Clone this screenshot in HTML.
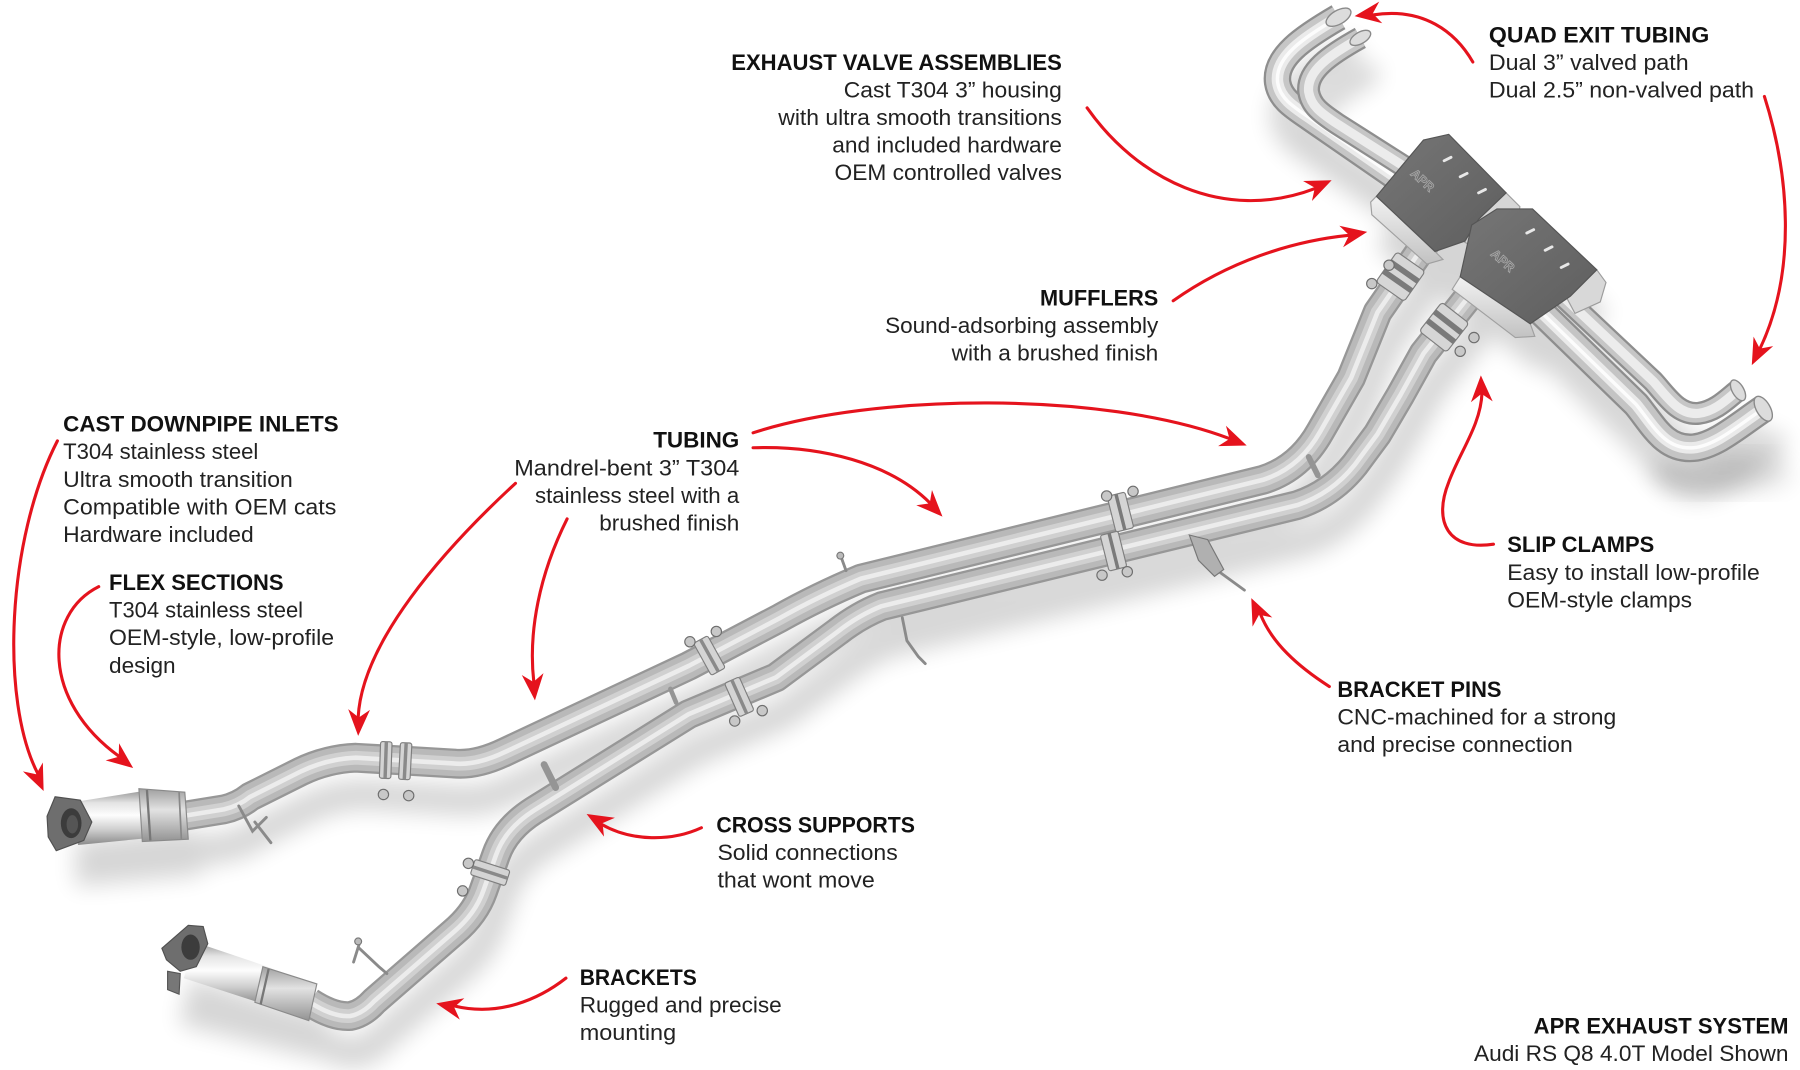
<!DOCTYPE html>
<html><head><meta charset="utf-8">
<style>
html,body{margin:0;padding:0;background:#fff;width:1800px;height:1070px;overflow:hidden}
svg{display:block}
</style></head>
<body>
<svg width="1800" height="1070" viewBox="0 0 1568 932" preserveAspectRatio="none" xmlns="http://www.w3.org/2000/svg" xmlns:xlink="http://www.w3.org/1999/xlink">
<defs>
  <filter id="sh" x="-20%" y="-20%" width="140%" height="140%"><feGaussianBlur stdDeviation="10"/></filter>
  <linearGradient id="gDown" x1="0" y1="0" x2="0" y2="1">
    <stop offset="0" stop-color="#9a9a9a"/><stop offset="0.22" stop-color="#e4e4e4"/>
    <stop offset="0.45" stop-color="#fdfdfd"/><stop offset="0.72" stop-color="#cdcdcd"/>
    <stop offset="1" stop-color="#8a8a8a"/>
  </linearGradient>
  <linearGradient id="gFlex" x1="0" y1="0" x2="0" y2="1">
    <stop offset="0" stop-color="#a0a0a0"/><stop offset="0.4" stop-color="#e2e2e2"/>
    <stop offset="1" stop-color="#939393"/>
  </linearGradient>
  <linearGradient id="gMuf" x1="0" y1="0" x2="1" y2="1">
    <stop offset="0" stop-color="#767676"/><stop offset="1" stop-color="#5e5e5e"/>
  </linearGradient>
  <linearGradient id="gLip" x1="0" y1="0" x2="0" y2="1">
    <stop offset="0" stop-color="#f2f2f2"/><stop offset="1" stop-color="#c2c2c2"/>
  </linearGradient>

  <path id="pA" d="M158,711 L195,705 Q208,702 218,694 L262,672 Q285,661 310,660 L395,665 Q415,667 440,655 L600,580 L680,538 Q712,520 750,504 L1100,418 Q1132,408 1150,376 L1177,329 L1200,272 L1250,200"/>
  <path id="pB" d="M270,873 Q290,886 305,885 Q316,883 326,872 L395,812 Q414,796 421,776 L432,745 Q440,722 465,706 L600,622 Q640,605 676,590 L730,550 Q748,536 768,528 L1130,440 Q1160,430 1180,405 L1200,378 L1220,344 L1240,308 L1290,245"/>
  <path id="pU1" d="M1166,15 C1135,33 1110,50 1113,72 C1115,85 1125,92 1140,102 L1260,185"/>
  <path id="pU2" d="M1185,33 C1158,48 1138,62 1140,80 C1142,92 1150,98 1165,108 L1275,178"/>
  <path id="pL1" d="M1320,250 L1425,352 C1440,370 1450,392 1475,390 C1495,388 1515,370 1536,356"/>
  <path id="pL2" d="M1340,238 L1440,332 C1452,345 1462,362 1480,360 C1495,358 1505,347 1514,340"/>
</defs>

<rect width="1568" height="932" fill="#fff"/>

<!-- shadows -->
<g filter="url(#sh)" opacity="0.16" transform="translate(6,32)" fill="none" stroke="#000" stroke-linecap="round" stroke-linejoin="round">
  <use href="#pA" stroke-width="26"/>
  <use href="#pB" stroke-width="26"/>
  <use href="#pU1" stroke-width="24"/>
  <use href="#pU2" stroke-width="20"/>
  <use href="#pL1" stroke-width="26"/>
  <use href="#pL2" stroke-width="20"/>
  <polygon points="1199,171 1260,118 1395,240 1335,292 1195,186" fill="#000" stroke="none"/>
  <polygon points="60,700 165,690 170,730 60,740" fill="#000" stroke="none"/>
  <polygon points="160,820 280,855 270,890 150,860" fill="#000" stroke="none"/>
</g>
<g filter="url(#sh)" opacity="0.12">
  <ellipse cx="1500" cy="412" rx="60" ry="18" fill="#000"/>
</g>

<!-- exit tubes -->
<g fill="none" stroke-linecap="butt" stroke-linejoin="round">
  <use href="#pU1" stroke="#8e8e8e" stroke-width="24"/>
  <use href="#pU1" stroke="#c6c6c6" stroke-width="20"/>
  <use href="#pU1" stroke="#ebebeb" stroke-width="10"/>
  <use href="#pU1" stroke="#fcfcfc" stroke-width="3"/>
  <use href="#pU2" stroke="#8e8e8e" stroke-width="20"/>
  <use href="#pU2" stroke="#c6c6c6" stroke-width="16"/>
  <use href="#pU2" stroke="#ececec" stroke-width="8"/>
  <use href="#pL2" stroke="#8e8e8e" stroke-width="20"/>
  <use href="#pL2" stroke="#c6c6c6" stroke-width="16"/>
  <use href="#pL2" stroke="#ececec" stroke-width="8"/>
  <use href="#pL1" stroke="#8e8e8e" stroke-width="25"/>
  <use href="#pL1" stroke="#c4c4c4" stroke-width="21"/>
  <use href="#pL1" stroke="#eaeaea" stroke-width="10"/>
  <use href="#pL1" stroke="#fcfcfc" stroke-width="3"/>
</g>
<g stroke="#8a8a8a" stroke-width="1.2">
  <ellipse cx="1166" cy="15" rx="12" ry="6" transform="rotate(-30 1166 15)" fill="#dcdcdc"/>
  <ellipse cx="1185" cy="33" rx="10" ry="5" transform="rotate(-30 1185 33)" fill="#dcdcdc"/>
  <ellipse cx="1536" cy="356" rx="6" ry="12" transform="rotate(-30 1536 356)" fill="#dcdcdc"/>
  <ellipse cx="1514" cy="340" rx="5" ry="10" transform="rotate(-30 1514 340)" fill="#dcdcdc"/>
</g>

<!-- main pipes -->
<g fill="none" stroke-linecap="butt" stroke-linejoin="round">
  <use href="#pA" stroke="#979797" stroke-width="26"/>
  <use href="#pA" stroke="#b9b9b9" stroke-width="22"/>
  <use href="#pA" stroke="#d0d0d0" stroke-width="12"/>
  <use href="#pA" stroke="#ececec" stroke-width="4"/>
  <use href="#pB" stroke="#979797" stroke-width="26"/>
  <use href="#pB" stroke="#b9b9b9" stroke-width="22"/>
  <use href="#pB" stroke="#d0d0d0" stroke-width="12"/>
  <use href="#pB" stroke="#ececec" stroke-width="4"/>
</g>

<!-- cross supports -->
<g stroke="#959595" stroke-linecap="round">
  <line x1="474" y1="666" x2="484" y2="686" stroke-width="6"/>
  <line x1="584" y1="600" x2="589" y2="612" stroke-width="4"/>
  <line x1="1140" y1="398" x2="1148" y2="414" stroke-width="5"/>
</g>

<!-- downpipe 1 -->
<polygon points="62,699 125,689 129,730 68,736" fill="url(#gDown)"/>
<polygon points="121,687 161,690 164,731 124,733" fill="url(#gFlex)" stroke="#8a8a8a" stroke-width="1"/>
<line x1="128" y1="688" x2="131" y2="732" stroke="#777" stroke-width="2"/>
<line x1="156" y1="690" x2="158" y2="731" stroke="#888" stroke-width="1.5"/>
<polygon points="41,711 48,694 70,697 80,716 73,732 49,741 42,729" fill="#6e6e6e" stroke="#505050" stroke-width="1"/>
<ellipse cx="62" cy="717" rx="9" ry="13" fill="#3c3c3c"/>
<ellipse cx="63" cy="718" rx="5" ry="8" fill="#555"/>

<!-- downpipe 2 -->
<polygon points="171,821 242,845 231,875 160,852" fill="url(#gDown)"/>
<polygon points="229,842 276,857 269,889 222,873" fill="url(#gFlex)" stroke="#8a8a8a" stroke-width="1"/>
<line x1="234" y1="844" x2="227" y2="875" stroke="#777" stroke-width="2"/>
<polygon points="141,826 164,806 177,807 181,822 171,842 157,846 145,836" fill="#6e6e6e" stroke="#505050" stroke-width="1"/>
<polygon points="146,846 157,848 156,866 146,862" fill="#777" stroke="#555" stroke-width="1"/>
<ellipse cx="166" cy="825" rx="8" ry="11" fill="#3c3c3c"/>

<!-- mufflers -->
<!-- muffler 1 -->
<polygon points="1199,171 1250,219 1257,226 1243,230 1195,187 1194,176" fill="url(#gLip)" stroke="#a0a0a0" stroke-width="1"/>
<polygon points="1286,192 1312,168 1324,180 1320,206 1300,224 1276,211" fill="#d6d6d6" stroke="#9c9c9c" stroke-width="1"/>
<polygon points="1199,171 1240,122 1262,117 1312,168 1288,191 1276,210 1250,219" fill="url(#gMuf)" stroke="#555" stroke-width="1"/>
<!-- muffler 2 -->
<polygon points="1272,241 1333,282 1337,293 1320,294 1265,252" fill="url(#gLip)" stroke="#a0a0a0" stroke-width="1"/>
<polygon points="1364,258 1391,235 1399,246 1394,263 1372,273" fill="#d8d8d8" stroke="#9c9c9c" stroke-width="1"/>
<polygon points="1272,241 1282,196 1304,182 1335,182 1391,235 1368,258 1333,282" fill="url(#gMuf)" stroke="#555" stroke-width="1"/>
<g stroke="#e8e8e8" stroke-width="2.5" stroke-linecap="round">
  <line x1="1258" y1="140" x2="1264" y2="137"/>
  <line x1="1272" y1="154" x2="1278" y2="151"/>
  <line x1="1288" y1="168" x2="1294" y2="165"/>
  <line x1="1330" y1="203" x2="1336" y2="200"/>
  <line x1="1346" y1="218" x2="1352" y2="215"/>
  <line x1="1360" y1="233" x2="1366" y2="230"/>
</g>
<g font-family="'Liberation Sans', Arial, sans-serif" font-size="11" font-weight="700" fill="none" stroke="#a8a8a8" stroke-width="0.7">
  <text x="1228" y="152" transform="rotate(42 1228 152)">APR</text>
  <text x="1298" y="222" transform="rotate(42 1298 222)">APR</text>
</g>

<!-- clamps -->
<g stroke="#7e7e7e" stroke-width="1">
  <g transform="translate(336,662) rotate(2)"><rect x="-5" y="-16" width="10" height="32" rx="2" fill="#d4d4d4"/><rect x="-1.5" y="-16" width="3" height="32" fill="#8a8a8a" stroke="none"/></g>
  <g transform="translate(353,663) rotate(3)"><rect x="-5" y="-16" width="10" height="32" rx="2" fill="#d4d4d4"/><rect x="-1.5" y="-16" width="3" height="32" fill="#8a8a8a" stroke="none"/></g>
  <g transform="translate(618,571) rotate(-29)"><rect x="-7" y="-16" width="14" height="32" rx="2" fill="#d4d4d4"/><rect x="-1.5" y="-16" width="3" height="32" fill="#8a8a8a" stroke="none"/></g>
  <g transform="translate(644,607) rotate(-24)"><rect x="-7" y="-16" width="14" height="32" rx="2" fill="#d4d4d4"/><rect x="-1.5" y="-16" width="3" height="32" fill="#8a8a8a" stroke="none"/></g>
  <g transform="translate(976,446) rotate(-14)"><rect x="-8" y="-16" width="16" height="32" rx="2" fill="#d4d4d4"/><rect x="-1.5" y="-16" width="3" height="32" fill="#7a7a7a" stroke="none"/></g>
  <g transform="translate(970,480) rotate(-14)"><rect x="-8" y="-16" width="16" height="32" rx="2" fill="#d4d4d4"/><rect x="-1.5" y="-16" width="3" height="32" fill="#7a7a7a" stroke="none"/></g>
  <g transform="translate(427,760) rotate(-72)"><rect x="-7" y="-16" width="14" height="32" rx="2" fill="#d4d4d4"/><rect x="-1.5" y="-16" width="3" height="32" fill="#8a8a8a" stroke="none"/></g>
  <g transform="translate(1220,241) rotate(-55)"><rect x="-16" y="-15" width="32" height="30" rx="3" fill="#d6d6d6"/><rect x="-7" y="-15" width="5" height="30" fill="#7a7a7a" stroke="none"/><rect x="3" y="-15" width="5" height="30" fill="#7a7a7a" stroke="none"/></g>
  <g transform="translate(1258,285) rotate(-52)"><rect x="-16" y="-15" width="32" height="30" rx="3" fill="#d6d6d6"/><rect x="-7" y="-15" width="5" height="30" fill="#7a7a7a" stroke="none"/><rect x="3" y="-15" width="5" height="30" fill="#7a7a7a" stroke="none"/></g>
</g>
<g fill="#c8c8c8" stroke="#6e6e6e" stroke-width="1">
  <circle cx="334" cy="692" r="4.5"/><circle cx="356" cy="693" r="4.5"/>
  <circle cx="601" cy="559" r="4.5"/><circle cx="624" cy="550" r="4.5"/>
  <circle cx="640" cy="628" r="4.5"/><circle cx="664" cy="619" r="4.5"/>
  <circle cx="964" cy="432" r="4.5"/><circle cx="987" cy="428" r="4.5"/>
  <circle cx="960" cy="501" r="4.5"/><circle cx="982" cy="498" r="4.5"/>
  <circle cx="408" cy="752" r="4.5"/><circle cx="403" cy="776" r="4.5"/>
  <circle cx="1195" cy="247" r="4.5"/><circle cx="1210" cy="231" r="4.5"/>
  <circle cx="1272" cy="306" r="4.5"/><circle cx="1284" cy="294" r="4.5"/>
</g>

<!-- brackets -->
<g fill="none" stroke="#8a8a8a" stroke-width="2.5" stroke-linecap="round">
  <path d="M208,702 L220,724 L232,712 M222,716 L236,734"/>
  <path d="M737,497 L733,486"/>
  <path d="M786,538 L790,558 L800,572 L806,578"/>
  <path d="M1062,498 L1084,514"/>
  <path d="M308,838 L313,822 M313,826 L330,842 L337,848"/>
</g>
<circle cx="732" cy="484" r="3" fill="#bbb" stroke="#777"/>
<circle cx="312" cy="820" r="3" fill="#bbb" stroke="#777"/>
<polygon points="1036,466 1052,470 1066,496 1058,502 1044,488" fill="#b0b0b0" stroke="#777" stroke-width="1"/>

<!-- red arrows -->
<g fill="none" stroke="#e5131d" stroke-width="2.7" stroke-linecap="round">
  <path d="M1283,54 C1268,28 1240,6 1196,13"/>
  <path d="M1537,84 C1558,150 1566,235 1533,304"/>
  <path d="M947,94 C990,155 1065,195 1146,164"/>
  <path d="M1022,262 C1070,228 1125,210 1175,205"/>
  <path d="M656,377 C760,343 960,340 1071,382"/>
  <path d="M656,390 C715,388 775,403 810,438"/>
  <path d="M449,421 C385,480 315,560 312,625"/>
  <path d="M494,452 C470,500 460,550 465,594"/>
  <path d="M50,384 C6,470 0,610 33,674"/>
  <path d="M86,511 C38,535 36,610 104,659"/>
  <path d="M611,721 C585,733 550,733 524,718"/>
  <path d="M493,852 C470,870 435,886 395,876"/>
  <path d="M1301,474 C1262,480 1248,455 1262,420 C1272,393 1290,370 1291,342"/>
  <path d="M1158,598 C1130,580 1108,560 1098,535"/>
</g>
<g fill="#e5131d">
  <path d="M0,0 L-23,-9.5 L-16,0 L-23,9.5 Z" transform="translate(1180,14) rotate(172)"/>
  <path d="M0,0 L-23,-9.5 L-16,0 L-23,9.5 Z" transform="translate(1526,318) rotate(116)"/>
  <path d="M0,0 L-23,-9.5 L-16,0 L-23,9.5 Z" transform="translate(1160,157) rotate(-24)"/>
  <path d="M0,0 L-23,-9.5 L-16,0 L-23,9.5 Z" transform="translate(1191,202) rotate(-10)"/>
  <path d="M0,0 L-23,-9.5 L-16,0 L-23,9.5 Z" transform="translate(1086,388) rotate(21)"/>
  <path d="M0,0 L-23,-9.5 L-16,0 L-23,9.5 Z" transform="translate(821,450) rotate(46)"/>
  <path d="M0,0 L-23,-9.5 L-16,0 L-23,9.5 Z" transform="translate(312,641) rotate(92)"/>
  <path d="M0,0 L-23,-9.5 L-16,0 L-23,9.5 Z" transform="translate(466,610) rotate(85)"/>
  <path d="M0,0 L-23,-9.5 L-16,0 L-23,9.5 Z" transform="translate(38,689) rotate(66)"/>
  <path d="M0,0 L-23,-9.5 L-16,0 L-23,9.5 Z" transform="translate(116,669) rotate(38)"/>
  <path d="M0,0 L-23,-9.5 L-16,0 L-23,9.5 Z" transform="translate(511,709) rotate(210)"/>
  <path d="M0,0 L-23,-9.5 L-16,0 L-23,9.5 Z" transform="translate(380,874) rotate(192)"/>
  <path d="M0,0 L-23,-9.5 L-16,0 L-23,9.5 Z" transform="translate(1290,327) rotate(-92)"/>
  <path d="M0,0 L-23,-9.5 L-16,0 L-23,9.5 Z" transform="translate(1090,521) rotate(245)"/>
</g>

<!-- headings -->
<g font-family="'Liberation Sans', Arial, sans-serif" font-size="19" font-weight="700" fill="#111">
  <text x="637" y="61" textLength="288" lengthAdjust="spacingAndGlyphs">EXHAUST VALVE ASSEMBLIES</text>
  <text x="1297" y="37" textLength="192" lengthAdjust="spacingAndGlyphs">QUAD EXIT TUBING</text>
  <text x="906" y="266" textLength="103" lengthAdjust="spacingAndGlyphs">MUFFLERS</text>
  <text x="55" y="376" textLength="240" lengthAdjust="spacingAndGlyphs">CAST DOWNPIPE INLETS</text>
  <text x="569" y="390" textLength="75" lengthAdjust="spacingAndGlyphs">TUBING</text>
  <text x="95" y="514" textLength="152" lengthAdjust="spacingAndGlyphs">FLEX SECTIONS</text>
  <text x="1313" y="481" textLength="128" lengthAdjust="spacingAndGlyphs">SLIP CLAMPS</text>
  <text x="1165" y="607" textLength="143" lengthAdjust="spacingAndGlyphs">BRACKET PINS</text>
  <text x="624" y="725" textLength="173" lengthAdjust="spacingAndGlyphs">CROSS SUPPORTS</text>
  <text x="505" y="858" textLength="102" lengthAdjust="spacingAndGlyphs">BRACKETS</text>
  <text x="1336" y="900" textLength="222" lengthAdjust="spacingAndGlyphs">APR EXHAUST SYSTEM</text>
</g>

<!-- body text -->
<g font-family="'Liberation Sans', Arial, sans-serif" font-size="19" fill="#222">
  <text x="735" y="85" textLength="190" lengthAdjust="spacingAndGlyphs">Cast T304 3” housing</text>
  <text x="678" y="109" textLength="247" lengthAdjust="spacingAndGlyphs">with ultra smooth transitions</text>
  <text x="725" y="133" textLength="200" lengthAdjust="spacingAndGlyphs">and included hardware</text>
  <text x="727" y="157" textLength="198" lengthAdjust="spacingAndGlyphs">OEM controlled valves</text>

  <text x="1297" y="61" textLength="174" lengthAdjust="spacingAndGlyphs">Dual 3” valved path</text>
  <text x="1297" y="85" textLength="231" lengthAdjust="spacingAndGlyphs">Dual 2.5” non-valved path</text>

  <text x="771" y="290" textLength="238" lengthAdjust="spacingAndGlyphs">Sound-adsorbing assembly</text>
  <text x="829" y="314" textLength="180" lengthAdjust="spacingAndGlyphs">with a brushed finish</text>

  <text x="55" y="400" textLength="170" lengthAdjust="spacingAndGlyphs">T304 stainless steel</text>
  <text x="55" y="424" textLength="200" lengthAdjust="spacingAndGlyphs">Ultra smooth transition</text>
  <text x="55" y="448" textLength="238" lengthAdjust="spacingAndGlyphs">Compatible with OEM cats</text>
  <text x="55" y="472" textLength="166" lengthAdjust="spacingAndGlyphs">Hardware included</text>

  <text x="448" y="414" textLength="196" lengthAdjust="spacingAndGlyphs">Mandrel-bent 3” T304</text>
  <text x="466" y="438" textLength="178" lengthAdjust="spacingAndGlyphs">stainless steel with a</text>
  <text x="522" y="462" textLength="122" lengthAdjust="spacingAndGlyphs">brushed finish</text>

  <text x="95" y="538" textLength="169" lengthAdjust="spacingAndGlyphs">T304 stainless steel</text>
  <text x="95" y="562" textLength="196" lengthAdjust="spacingAndGlyphs">OEM-style, low-profile</text>
  <text x="95" y="586" textLength="58" lengthAdjust="spacingAndGlyphs">design</text>

  <text x="1313" y="505" textLength="220" lengthAdjust="spacingAndGlyphs">Easy to install low-profile</text>
  <text x="1313" y="529" textLength="161" lengthAdjust="spacingAndGlyphs">OEM-style clamps</text>

  <text x="1165" y="631" textLength="243" lengthAdjust="spacingAndGlyphs">CNC-machined for a strong</text>
  <text x="1165" y="655" textLength="205" lengthAdjust="spacingAndGlyphs">and precise connection</text>

  <text x="625" y="749" textLength="157" lengthAdjust="spacingAndGlyphs">Solid connections</text>
  <text x="625" y="773" textLength="137" lengthAdjust="spacingAndGlyphs">that wont move</text>

  <text x="505" y="882" textLength="176" lengthAdjust="spacingAndGlyphs">Rugged and precise</text>
  <text x="505" y="906" textLength="84" lengthAdjust="spacingAndGlyphs">mounting</text>

  <text x="1284" y="924" textLength="274" lengthAdjust="spacingAndGlyphs">Audi RS Q8 4.0T Model Shown</text>
</g>
</svg>
</body></html>
